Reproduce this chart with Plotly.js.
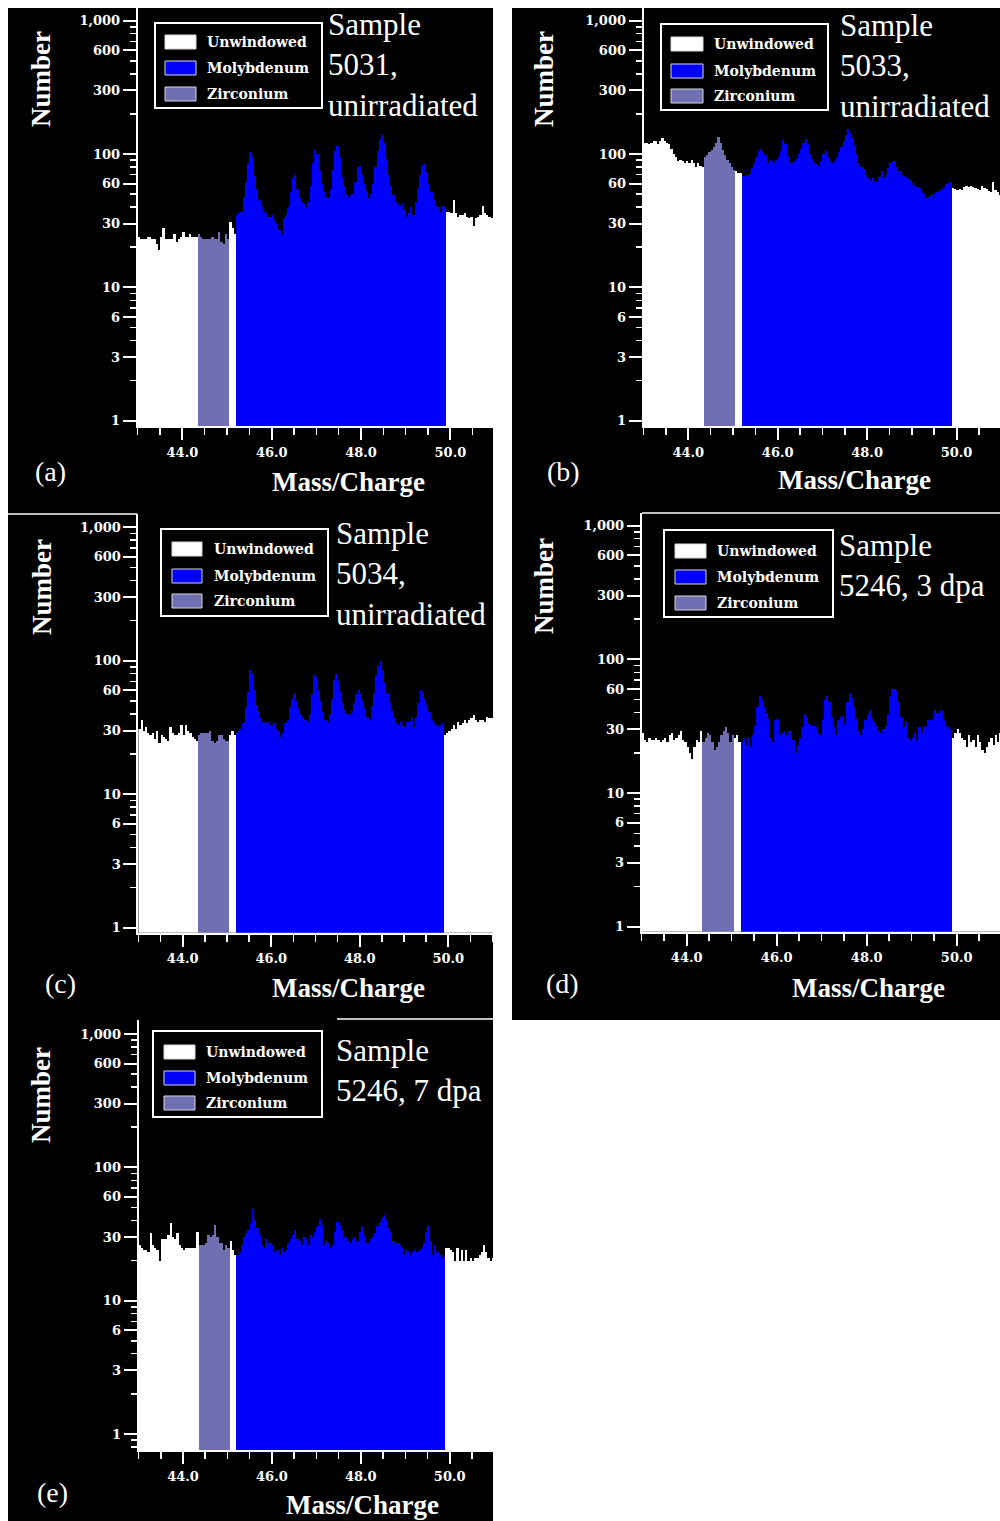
<!DOCTYPE html>
<html><head><meta charset="utf-8">
<script src="https://cdn.plot.ly/plotly-3.0.1.min.js"></script>
<style>html,body{margin:0;padding:0;background:#fff;} #chart{width:1000px;height:1521px;}</style>
</head><body><div id="chart"></div>
<script>
// ---------- DATA ----------
const binStart = 43.0;          // Mass/Charge of first bin edge
const binWidth = 0.05;          // histogram bin width
const zrWindow = [44.35, 45.05];
const moWindow = [45.2, 49.9];
const seriesNames = ['Unwindowed', 'Molybdenum', 'Zirconium'];
const yTickVals = [1, 3, 6, 10, 30, 60, 100, 300, 600, 1000];
const yTickText = ['1', '3', '6', '10', '30', '60', '100', '300', '600', '1,000'];
const xTickVals = [44, 46, 48, 50];
const xTickText = ['44.0', '46.0', '48.0', '50.0'];
const sampleLabels = ['Sample<br>5031,<br>unirradiated', 'Sample<br>5033,<br>unirradiated',
  'Sample<br>5034,<br>unirradiated', 'Sample<br>5246, 3 dpa', 'Sample<br>5246, 7 dpa'];
const panelTags = ['(a)', '(b)', '(c)', '(d)', '(e)'];

const counts_a = [24,23,23,23,24,24,23,23,21,19,24,28,23,23,23,23,25,22,23,24,26,24,24,25,24,24,24,
 25,24,23,23,23,23,24,23,23,26,22,21,25,23,
 31,28,25,
 35,36,37,48,62,85,103,95,68,55,
 45,40,37,36,34,34,35,32,30,27,
 25,33,35,40,52,66,70,55,47,44,
 42,40,44,58,85,108,100,75,60,52,
 48,47,55,76,105,115,95,67,58,50,
 48,49,50,62,80,82,70,60,53,47,
 50,60,80,105,130,140,120,92,70,58,
 49,44,42,41,43,38,34,36,40,35,
 44,56,70,83,84,73,60,52,45,41,
 40,37,41,40,
 37,37,36,45,36,34,35,35,36,34,33,34,29,33,34,35,41,36,35,34,33,34];

const counts_b = [120,122,118,120,125,126,118,125,132,126,120,118,110,100,95,88,90,88,85,88,85,90,86,80,85,82,80,
 95,98,103,107,112,120,135,122,108,98,90,85,80,76,
 74,72,72,
 68,68,70,72,79,86,95,105,110,103,
 98,85,90,88,86,90,95,105,127,118,
 97,86,85,88,92,100,110,120,130,118,
 100,92,86,84,82,88,100,105,95,88,
 86,88,93,103,112,125,138,155,145,132,
 116,100,86,80,77,70,66,64,66,63,
 62,67,74,66,70,78,86,88,88,80,
 74,70,68,67,65,64,61,59,57,56,
 52,50,47,48,49,49,51,52,54,55,
 57,60,61,62,
 56,55,54,55,54,57,58,57,58,57,56,55,54,58,56,55,53,52,62,54,52,49];

const counts_c = [31,36,30,32,29,28,29,26,30,24,28,27,26,25,32,29,28,28,29,33,28,33,30,29,27,26,25,
 28,29,29,29,29,30,25,24,25,28,28,26,25,25,
 28,30,28,
 29,30,31,34,45,58,85,80,60,47,
 42,37,35,34,35,33,33,34,31,30,
 27,29,34,36,45,52,56,50,44,40,
 38,36,35,40,56,78,76,60,50,41,
 36,35,40,52,72,80,70,58,48,43,
 40,39,42,48,56,60,56,50,44,38,
 36,46,57,78,92,100,86,68,57,48,
 42,37,34,33,35,33,32,35,35,37,
 32,38,48,60,58,52,47,41,36,34,
 33,32,33,34,
 28,29,30,31,33,31,35,33,34,36,34,36,37,39,36,35,36,36,35,38,37,37];

const counts_d = [28,25,24,26,25,25,26,25,24,25,26,24,27,28,25,26,27,29,25,24,22,20,18,22,25,24,29,
 24,26,28,27,24,21,22,24,27,29,31,28,24,27,
 26,27,24,
 24,26,23,26,22,27,32,44,53,50,
 44,40,36,26,24,35,36,27,28,29,
 27,29,29,25,20,23,26,31,39,37,
 33,32,32,31,28,27,35,50,53,48,
 37,31,27,35,37,38,33,48,56,51,
 44,36,29,27,30,35,39,42,36,34,
 32,29,28,30,32,39,53,60,60,58,
 48,37,31,34,26,25,26,28,25,31,
 28,32,31,35,35,36,42,40,41,42,
 35,32,31,30,
 26,28,30,28,26,25,22,27,24,25,22,27,24,21,20,22,24,26,23,27,24,28];

const counts_e = [26,25,24,24,23,32,26,25,24,20,29,29,29,31,38,30,29,32,26,25,24,25,25,25,25,25,33,
 26,26,26,27,31,30,31,37,30,27,27,24,26,25,
 28,24,22,
 22,23,26,30,32,34,38,49,40,35,
 31,26,25,29,27,27,26,23,24,22,
 25,23,24,27,29,31,34,29,28,26,
 30,29,26,31,30,33,36,41,37,26,
 28,27,25,26,33,39,37,34,30,30,
 28,27,29,30,28,33,36,31,27,27,
 29,30,32,36,39,42,44,40,35,33,
 28,28,27,26,25,22,24,23,22,23,
 24,23,24,25,27,33,36,28,22,26,
 23,22,21,22,
 25,25,24,23,20,25,20,24,20,24,20,21,20,21,21,22,23,26,23,21,20,21];

const allCounts = [counts_a, counts_b, counts_c, counts_d, counts_e];

// ---------- STYLE / LAYOUT GEOMETRY (pixels) ----------
const W = 1000, H = 1521;
const colors = {Unwindowed: '#ffffff', Molybdenum: '#0000ff', Zirconium: '#6f6fb2'};
const geo = [
  {rect:[8,8,493,514],   l:137.7, r:493,  t:8,   b:426,   ppu:44.67, y1:420.7, y1000:20.7,
   leg:{l:155,t:23,r:322,b:108, sw:[165,196], rows:[42,68,94], tx:205},
   sample:{x:326,y:5}, tag:{x:50,y:472}, xt:{x:348,y:482}, yt:{x:41,y:79}},
  {rect:[512,8,1000,514], l:643.6, r:1000, t:8,   b:426,   ppu:44.7,  y1:420.7, y1000:20.7,
   leg:{l:661,t:24,r:828,b:110, sw:[671,703], rows:[44,71,96], tx:712},
   sample:{x:838,y:6}, tag:{x:563,y:472}, xt:{x:854,y:480}, yt:{x:544,y:79}},
  {rect:[8,514,493,1020], l:138.4, r:493,  t:514, b:932.7, ppu:44.27, y1:927.7, y1000:527.3,
   leg:{l:161,t:529,r:328,b:616, sw:[172,202], rows:[549,576,601], tx:212},
   sample:{x:334,y:514}, tag:{x:60,y:983}, xt:{x:348,y:988}, yt:{x:42,y:587}},
  {rect:[512,513,1000,1020], l:641.7, r:1000, t:513, b:931.7, ppu:45, y1:926.7, y1000:525.7,
   leg:{l:664,t:530,r:833,b:617, sw:[675,706], rows:[551,577,603], tx:715},
   sample:{x:837,y:526}, tag:{x:562,y:983}, xt:{x:868,y:988}, yt:{x:544,y:586}},
  {rect:[8,1020,493,1521], l:138.55, r:493, t:1020, b:1450, ppu:44.45, y1:1434, y1000:1034,
   leg:{l:153,t:1031,r:322,b:1117, sw:[164,195], rows:[1052,1078,1103], tx:204},
   sample:{x:334,y:1031}, tag:{x:52,y:1492}, xt:{x:362,y:1505}, yt:{x:41,y:1095}}
];

const PX = x => x / W;
const PY = y => 1 - y / H;

function windowed(counts, win) {
  return counts.map((c, i) => {
    const x0 = binStart + i * binWidth, x1 = x0 + binWidth;
    return (x0 >= win[0] - 1e-6 && x1 <= win[1] + 1e-6) ? c : null;
  });
}

const tickFont = {family: 'DejaVu Serif', size: 13, color: 'white', weight: 'bold'};
const traces = [];
const layout = {
  width: W, height: H, margin: {l:0, r:0, t:0, b:0},
  paper_bgcolor: '#ffffff', plot_bgcolor: '#000000',
  barmode: 'overlay', bargap: 0, showlegend: false,
  shapes: [], annotations: []
};

geo.forEach((g, k) => {
  const n = k + 1, sx = n === 1 ? '' : String(n);
  const xa = 'x' + sx, ya = 'y' + sx;
  const counts = allCounts[k];
  const series = [
    {name: seriesNames[0], y: counts},
    {name: seriesNames[2], y: windowed(counts, zrWindow)},
    {name: seriesNames[1], y: windowed(counts, moWindow)}
  ];
  series.forEach(s => traces.push({
    type: 'bar', name: s.name, x0: binStart + binWidth / 2, dx: binWidth, y: s.y,
    width: binWidth, xaxis: xa, yaxis: ya, hoverinfo: 'skip',
    marker: {color: colors[s.name], line: {width: 0}}
  }));

  const k10 = (g.y1 - g.y1000) / 3;
  layout['xaxis' + sx] = {
    domain: [PX(g.l), PX(g.r)], range: [binStart, binStart + (g.r - g.l) / g.ppu], anchor: ya,
    showgrid: false, zeroline: false, showline: true, linecolor: 'white', linewidth: 2,
    ticks: 'outside', ticklen: 12, tickwidth: 2, tickcolor: 'white',
    tickmode: 'array', tickvals: xTickVals, ticktext: xTickText, tickfont: tickFont,
    ticklabelstandoff: 1,
    minor: {tickmode: 'linear', tick0: 43, dtick: 0.5, ticks: 'outside', ticklen: 7,
            tickwidth: 1.5, tickcolor: 'white', showgrid: false},
    fixedrange: true
  };
  layout['yaxis' + sx] = {
    type: 'log', domain: [PY(g.b), PY(g.t)],
    range: [(g.y1 - g.b) / k10, (g.y1 - g.t) / k10], anchor: xa,
    showgrid: false, zeroline: false, showline: true, linecolor: 'white', linewidth: 2,
    ticks: 'outside', ticklen: 13, tickwidth: 2, tickcolor: 'white',
    tickmode: 'array', tickvals: yTickVals, ticktext: yTickText, tickfont: tickFont,
    minor: {tickmode: 'linear', dtick: 'D1', ticks: 'outside', ticklen: 6,
            tickwidth: 1.5, tickcolor: 'white', showgrid: false},
    fixedrange: true
  };

  // black panel background
  layout.shapes.push({type: 'rect', xref: 'paper', yref: 'paper', layer: 'below',
    x0: PX(g.rect[0]), x1: PX(g.rect[2]), y0: PY(g.rect[3]), y1: PY(g.rect[1]),
    fillcolor: '#000000', line: {width: 0}});

  // legend box
  const L = g.leg;
  layout.shapes.push({type: 'rect', xref: 'paper', yref: 'paper', layer: 'above',
    x0: PX(L.l), x1: PX(L.r), y0: PY(L.b), y1: PY(L.t),
    fillcolor: '#000000', line: {color: '#ffffff', width: 2}});
  seriesNames.forEach((nm, j) => {
    layout.shapes.push({type: 'rect', xref: 'paper', yref: 'paper', layer: 'above',
      x0: PX(L.sw[0]), x1: PX(L.sw[1]), y0: PY(L.rows[j] + 7), y1: PY(L.rows[j] - 7),
      fillcolor: colors[nm], line: {color: '#d8d8d8', width: 1}});
    layout.annotations.push({xref: 'paper', yref: 'paper', x: PX(L.tx), y: PY(L.rows[j]),
      xanchor: 'left', yanchor: 'middle', showarrow: false, text: nm,
      font: {family: 'DejaVu Serif', size: 14, color: 'white', weight: 'bold'}});
  });

  // sample label
  layout.annotations.push({xref: 'paper', yref: 'paper', x: PX(g.sample.x), y: PY(g.sample.y),
    xanchor: 'left', yanchor: 'top', align: 'left', showarrow: false, text: sampleLabels[k],
    font: {family: 'Liberation Serif', size: 31, color: 'white'}});
  // panel tag
  layout.annotations.push({xref: 'paper', yref: 'paper', x: PX(g.tag.x), y: PY(g.tag.y),
    xanchor: 'center', yanchor: 'middle', showarrow: false, text: panelTags[k],
    font: {family: 'Liberation Serif', size: 28, color: 'white'}});
  // axis titles
  layout.annotations.push({xref: 'paper', yref: 'paper', x: PX(g.xt.x), y: PY(g.xt.y),
    xanchor: 'center', yanchor: 'middle', showarrow: false, text: 'Mass/Charge',
    font: {family: 'Liberation Serif', size: 27, color: 'white', weight: 'bold'}});
  layout.annotations.push({xref: 'paper', yref: 'paper', x: PX(g.yt.x), y: PY(g.yt.y),
    xanchor: 'center', yanchor: 'middle', showarrow: false, text: 'Number', textangle: -90,
    font: {family: 'Liberation Serif', size: 27, color: 'white', weight: 'bold'}});
});

// thin white seams between composed panels
[[8,514,137,514],[337,1019,493,1019],[642,513,1000,513]].forEach(s => layout.shapes.push({
  type: 'line', xref: 'paper', yref: 'paper', layer: 'above',
  x0: PX(s[0]), y0: PY(s[1]), x1: PX(s[2]), y1: PY(s[3]), line: {color: '#ffffff', width: 1.5}}));

Plotly.newPlot('chart', traces, layout, {staticPlot: true, displayModeBar: false});
</script>
</body></html>
